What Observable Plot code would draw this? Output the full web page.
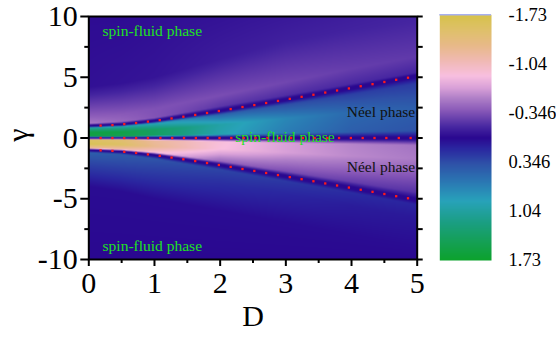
<!DOCTYPE html>
<html><head><meta charset="utf-8">
<script src="https://cdn.jsdelivr.net/npm/d3@7"></script>
<script src="https://cdn.jsdelivr.net/npm/@observablehq/plot@0.6"></script>
<style>
body{margin:0;background:#fff;}
#wrap{position:relative;width:556px;height:337px;overflow:hidden;}
#wrap svg{position:absolute;top:0;}
#wrap svg, #wrap svg text{font-family:"Liberation Serif","Times New Roman",Times,serif !important;}
#ylab{position:absolute;left:-2px;top:115px;width:40px;height:40px;display:flex;align-items:center;justify-content:center;transform:rotate(-90deg);font-family:"Liberation Serif","Times New Roman",serif;font-size:30px;line-height:1;color:#000;}
</style></head><body><div id="wrap"><div id="ylab">γ</div></div>
<script>
// Field samples: columns of D, feature γ positions (top→bottom) and values
const colD = [0, 0.5, 1, 2, 3, 4, 5];
const colGamma = [
  [10, 4.2, 1.8, 1.2, 1.05, 0.95, 0.82, 0.45, 0.15, 0.05, -0.05, -0.15, -0.5, -0.82, -0.95, -1.05, -1.2, -2.0, -4.0, -10],
  [10, 4.5, 2.0, 1.35, 1.17, 1.07, 0.93, 0.5, 0.15, 0.05, -0.05, -0.15, -0.55, -0.93, -1.07, -1.17, -1.35, -2.3, -4.4, -10],
  [10, 5.0, 2.4, 1.65, 1.47, 1.35, 1.18, 0.65, 0.2, 0.06, -0.06, -0.2, -0.7, -1.18, -1.35, -1.47, -1.7, -2.7, -5.0, -10],
  [10, 6.5, 3.5, 2.6, 2.32, 2.16, 1.9, 1.1, 0.3, 0.07, -0.07, -0.3, -0.9, -1.9, -2.16, -2.32, -2.6, -3.6, -6.0, -10],
  [10, 8.0, 4.6, 3.5, 3.25, 3.06, 2.75, 1.6, 0.4, 0.08, -0.08, -0.4, -1.2, -2.75, -3.06, -3.25, -3.55, -4.6, -7.0, -10],
  [10, 9.0, 5.7, 4.45, 4.22, 4.0, 3.6, 2.1, 0.5, 0.09, -0.09, -0.5, -1.5, -3.6, -4.0, -4.22, -4.5, -5.6, -8.0, -10],
  [10, 9.5, 6.7, 5.4, 5.22, 4.98, 4.5, 2.5, 0.6, 0.1, -0.1, -0.6, -1.7, -4.5, -4.98, -5.22, -5.5, -6.6, -9.0, -10]
];
const colValue = [
  [-0.02, -0.04, -0.4, -0.52, 0, 0, 1.05, 1.6, 1.55, 0, 0, -1.55, -1.65, -1.2, 0, 0, 0.45, 0.32, 0.02, 0],
  [-0.02, -0.05, -0.38, -0.45, 0, 0, 1.0, 1.55, 1.5, 0, 0, -1.45, -1.55, -1.1, 0, 0, 0.42, 0.3, 0.02, 0],
  [-0.03, -0.06, -0.35, -0.36, 0, 0, 0.92, 1.4, 1.4, 0, 0, -1.2, -1.25, -0.9, 0, 0, 0.38, 0.27, 0.02, 0],
  [-0.05, -0.1, -0.33, -0.22, 0, 0, 0.5, 1.0, 0.95, 0, 0, -0.9, -0.88, -0.45, 0, 0, 0.3, 0.2, 0.02, 0],
  [-0.08, -0.12, -0.3, -0.18, 0, 0, 0.35, 0.72, 0.65, 0, 0, -0.7, -0.7, -0.33, 0, 0, 0.24, 0.15, 0.02, 0],
  [-0.11, -0.13, -0.26, -0.16, 0, 0, 0.28, 0.52, 0.45, 0, 0, -0.58, -0.6, -0.26, 0, 0, 0.18, 0.1, 0.02, 0],
  [-0.14, -0.15, -0.24, -0.14, 0, 0, 0.25, 0.45, 0.38, 0, 0, -0.5, -0.54, -0.2, 0, 0, 0.14, 0.08, 0.02, 0]
];

// red dotted phase boundaries
const dotD = [0.18,0.36,0.54,0.72,0.90,1.08,1.26,1.44,1.62,1.80,1.98,2.16,2.34,2.52,2.70,2.88,3.06,3.24,3.42,3.60,3.78,3.96,4.14,4.32,4.50,4.68,4.86];
const upperGamma = [1.02,1.06,1.14,1.23,1.35,1.47,1.61,1.75,1.90,2.06,2.22,2.38,2.55,2.71,2.88,3.05,3.22,3.39,3.56,3.74,3.91,4.08,4.26,4.43,4.61,4.79,4.96];
const lowerGamma = [-1.02,-1.06,-1.14,-1.23,-1.35,-1.47,-1.61,-1.75,-1.90,-2.06,-2.22,-2.38,-2.55,-2.71,-2.88,-3.05,-3.22,-3.39,-3.56,-3.74,-3.91,-4.08,-4.26,-4.43,-4.61,-4.79,-4.96];
const midD = [0.18,0.36,0.54,0.72,0.90,1.09,1.27,1.45,1.63,1.81,1.99,2.17,2.36,2.54,2.72,2.90,3.08,3.26,3.44,3.63,3.81,3.99,4.17,4.35,4.53,4.72,4.90];
const midGamma = [0,0,0,0,0,0,0,0,0,0,0,0,0,0,0,0,0,0,0,0,0,0,0,0,0,0,0];

// annotations
const greenLabels = ["spin-fluid phase", "spin-fluid phase", "spin-fluid phase"];
const greenD = [0.21, 0.21, 2.23];
const greenGamma = [8.8, -8.9, 0.07];
const blackLabels = ["Néel phase", "Néel phase"];
const blackD = [4.97, 4.97];
const blackGamma = [2.1, -2.35];

// axes
const xMajorTicks = [0, 1, 2, 3, 4, 5];
const xMinorTicks = [0.5, 1.5, 2.5, 3.5, 4.5];
const yMajorTicks = [-10, -5, 0, 5, 10];
const yMinorTicks = [-7.5, -2.5, 2.5, 7.5];
const yRightTicks = [-10, -7.5, -5, -2.5, 0, 2.5, 5, 7.5, 10];
const cbTicks = [-1.73, -1.04, -0.346, 0.346, 1.04, 1.73];

// colour map
const colorStops = [-1.73, -1.5, -1.29, -1.08, -0.87, -0.7, -0.56, -0.38, -0.14, 0, 0.15, 0.37, 0.65, 0.89, 1.21, 1.5, 1.73];
const colorHexes = ["#d6c24a","#dfc06c","#e8b98a","#f0b9b4","#f8bfe0","#d8a0d8","#b080c8","#8858b8","#4424a0","#2a0890","#2a26a0","#2e52a8","#2a7cb4","#28a2ba","#1a9e80","#14a050","#0ca22c"];
const colorOpts = {type: "linear", domain: colorStops, range: colorHexes, clamp: true};

function field(D, g) {
  let i = 0;
  while (i < colD.length - 2 && D > colD[i + 1]) i++;
  const w = Math.max(0, Math.min(1, (D - colD[i]) / (colD[i + 1] - colD[i])));
  const G = colGamma[i].map((a, k) => a + (colGamma[i + 1][k] - a) * w);
  const V = colValue[i].map((a, k) => a + (colValue[i + 1][k] - a) * w);
  for (let k = 0; k < G.length - 1; k++) {
    if (g <= G[k] && g >= G[k + 1]) {
      const t = (G[k] - g) / ((G[k] - G[k + 1]) || 1);
      return V[k] + (V[k + 1] - V[k]) * t;
    }
  }
  return g > G[0] ? V[0] : V[V.length - 1];
}

const main = Plot.plot({
  width: 430, height: 337,
  marginLeft: 88.3, marginRight: 13.3, marginTop: 16, marginBottom: 78,
  x: {domain: [0, 5]},
  y: {domain: [-10, 10]},
  color: colorOpts,
  style: {background: "transparent", color: "black"},
  marks: [
    Plot.raster({x1: 0, x2: 5, y1: -10, y2: 10, fill: field, pixelSize: 1}),
    Plot.text(greenLabels, {x: greenD, y: greenGamma, text: d => d, textAnchor: "start", fill: "#1fe21f", fontSize: 15.5}),
    Plot.text(blackLabels, {x: blackD, y: blackGamma, text: d => d, textAnchor: "end", fill: "#111", fontSize: 15.5}),
    Plot.dot(dotD, {x: dotD, y: upperGamma, symbol: "square", r: 1.3, fill: "#ff1a1a"}),
    Plot.dot(midD, {x: midD, y: midGamma, symbol: "square", r: 1.3, fill: "#ff1a1a"}),
    Plot.dot(dotD, {x: dotD, y: lowerGamma, symbol: "square", r: 1.3, fill: "#ff1a1a"}),
    Plot.frame({stroke: "black", strokeWidth: 2}),
    Plot.axisY({ticks: yMajorTicks, tickSize: 8, tickPadding: 3, strokeWidth: 2, fontSize: 30, tickFormat: d => String(d), label: null}),
    Plot.axisY({ticks: yMinorTicks, tickSize: 4, strokeWidth: 2, tickFormat: () => "", label: null}),
    Plot.axisY({anchor: "right", ticks: yRightTicks, tickSize: 5, strokeWidth: 2, tickFormat: () => "", label: null}),
    Plot.axisX({ticks: xMajorTicks, tickSize: 7, tickPadding: 5, strokeWidth: 2, fontSize: 30, tickFormat: d => String(d), label: null}),
    Plot.axisX({ticks: xMinorTicks, tickSize: 4, strokeWidth: 2, tickFormat: () => "", label: null}),
    Plot.text(["D"], {frameAnchor: "bottom", dy: 66, fontSize: 30, fill: "black"})
  ]
});
main.style.left = "0px";

const bar = Plot.plot({
  width: 126, height: 337,
  marginLeft: 9.3, marginRight: 65, marginTop: 14.3, marginBottom: 77,
  x: {domain: [0, 1], axis: null},
  y: {domain: [cbTicks[0], cbTicks[cbTicks.length - 1]], reverse: true},
  color: colorOpts,
  style: {background: "transparent", color: "black"},
  marks: [
    Plot.raster({x1: 0, x2: 1, y1: cbTicks[0], y2: cbTicks[cbTicks.length - 1], fill: (x, y) => y, pixelSize: 1}),
    Plot.ruleY([cbTicks[0]], {stroke: "#a8b0f0", strokeWidth: 1.5}),
    Plot.axisY({anchor: "right", ticks: cbTicks, tickSize: 0, tickPadding: 17, fontSize: 18.5, tickFormat: d => String(d), label: null})
  ]
});
bar.style.left = "430px";

const wrap = document.getElementById("wrap");
wrap.insertBefore(main, wrap.firstChild);
wrap.insertBefore(bar, main.nextSibling);
</script></body></html>
